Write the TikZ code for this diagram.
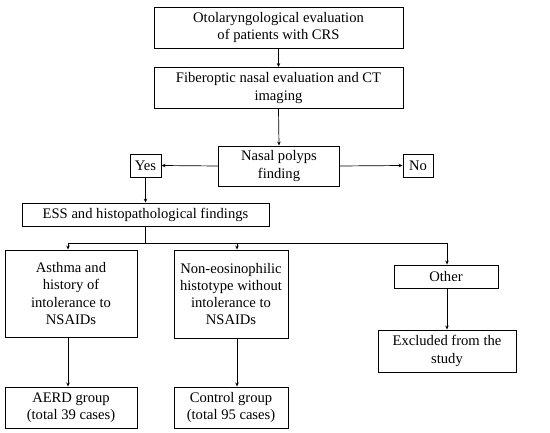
\documentclass[tikz,border=0pt]{standalone}
\usepackage{fontspec}
\setmainfont{Liberation Serif}
\usetikzlibrary{arrows.meta}
\begin{document}
\begin{tikzpicture}[x=1pt,y=-1pt,
  box/.style={draw,line width=0.9pt,align=center,inner sep=0pt,font=\fontsize{14.6}{17.3}\selectfont},
  arr/.style={line width=0.7pt,-{Stealth[length=4pt,width=3.5pt]}},
  ln/.style={line width=0.7pt}]
\useasboundingbox (0,0) rectangle (550,433);
\node[box,minimum width=249pt,minimum height=41pt] (b1) at (278.5,27.5) {Otolaryngological evaluation\\of patients with CRS};
\node[box,minimum width=249pt,minimum height=41pt] (b2) at (278.5,88) {Fiberoptic nasal evaluation and CT\\imaging};
\node[box,minimum width=121pt,minimum height=40pt] (np) at (279,166) {Nasal polyps\\finding};
\node[box,minimum width=31pt,minimum height=23pt] (yes) at (145.5,165.5) {Yes};
\node[box,minimum width=30pt,minimum height=23pt] (no) at (418,165.5) {No};
\node[box,minimum width=247pt,minimum height=23pt] (ess) at (145.5,214.5) {ESS and histopathological findings};
\node[box,minimum width=132pt,minimum height=87pt] (ast) at (71,293.5) {Asthma and\\history of\\intolerance to\\NSAIDs};
\node[box,minimum width=114pt,minimum height=88pt] (non) at (231,294) {Non-eosinophilic\\histotype without\\intolerance to\\NSAIDs};
\node[box,minimum width=104pt,minimum height=23pt] (oth) at (446,276.5) {Other};
\node[box,minimum width=138pt,minimum height=42pt] (exc) at (447,351) {Excluded from the\\study};
\node[box,minimum width=132pt,minimum height=41pt] (aerd) at (71,407.5) {AERD group\\(total 39 cases)};
\node[box,minimum width=114pt,minimum height=41pt] (ctl) at (231,407.5) {Control group\\(total 95 cases)};
\coordinate (j) at (145.5,243);
\coordinate (c1) at (68,243);
\coordinate (c2) at (237,243);
\coordinate (c3) at (447,243);
\draw[arr] (b1.south) -- (b2.north);
\draw[arr] (b2.south) -- (np.north);
\draw[arr] (np.west) -- (yes.east);
\draw[arr] (np.east) -- (no.west);
\draw[arr] (yes.south) -- (ess.north);
\draw[ln] (ess.south) -- (j);
\draw[ln] (c1) -- (c3);
\draw[arr] (c1) -- (c1 |- ast.north);
\draw[arr] (c2) -- (c2 |- non.north);
\draw[arr] (c3) -- (c3 |- oth.north);
\draw[arr] (c1 |- ast.south) -- (c1 |- aerd.north);
\draw[arr] (c2 |- non.south) -- (c2 |- ctl.north);
\draw[arr] (c3 |- oth.south) -- (c3 |- exc.north);
\end{tikzpicture}
\end{document}
